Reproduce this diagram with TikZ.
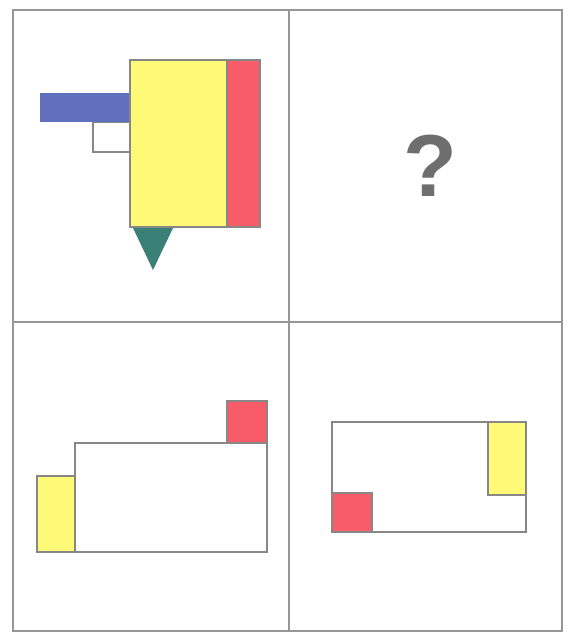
\documentclass[tikz,border=0pt]{standalone}
\usepackage{fontspec}
\setmainfont{Liberation Sans}
\definecolor{framegray}{RGB}{150,150,150}
\definecolor{edgegray}{RGB}{135,135,135}
\definecolor{pyellow}{RGB}{255,249,120}
\definecolor{pred}{RGB}{247,92,104}
\definecolor{pblue}{RGB}{96,112,190}
\definecolor{pteal}{RGB}{58,128,118}
\definecolor{qgray}{RGB}{110,110,110}
\begin{document}
\begin{tikzpicture}[x=1pt,y=-1pt,
  frame/.style={draw=framegray,line width=1.8pt},
  outl/.style={draw=edgegray,line width=1.3pt},
  yel/.style={outl,fill=pyellow},
  rd/.style={outl,fill=pred},
  bl/.style={fill=pblue},
  tl/.style={fill=pteal}]
\useasboundingbox (0,0) rectangle (566,634);
\fill[white] (0,0) rectangle (566,634);
% grid
\draw[frame] (13,10) rectangle (562,631);
\draw[frame] (289,10) -- (289,631);
\draw[frame] (13,322) -- (562,322);
% top-left panel
\draw[outl] (93,122) rectangle (130,152);
\fill[bl] (40,93) rectangle (130,122);
\filldraw[yel] (130,60) rectangle (227,227);
\filldraw[rd] (227,60) rectangle (260,227);
\fill[tl] (133,228) -- (173,228) -- (153,270) -- cycle;
% top-right panel
\node[text=qgray,font=\bfseries\fontsize{88}{88}\selectfont] (q) at (430,166) {?};
% bottom-left panel
\draw[outl,fill=white] (75,443) rectangle (267,552);
\filldraw[yel] (37,476) rectangle (75,552);
\filldraw[rd] (227,401) rectangle (267,443);
% bottom-right panel
\draw[outl,fill=white] (332,422) rectangle (526,532);
\filldraw[yel] (488,422) rectangle (526,495);
\filldraw[rd] (332,493) rectangle (372,532);
\end{tikzpicture}
\end{document}
